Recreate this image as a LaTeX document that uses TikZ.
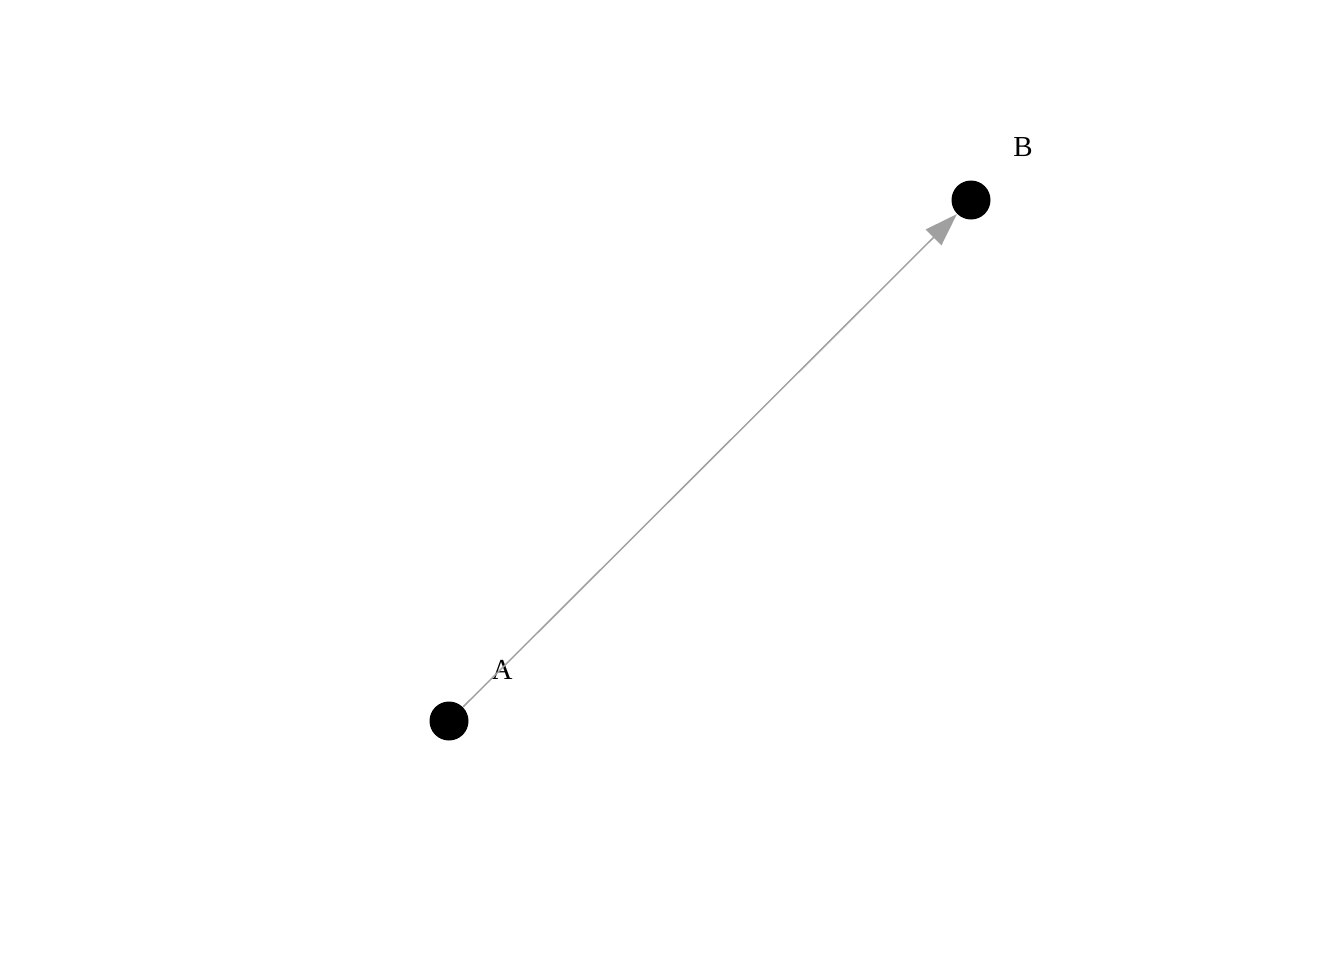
\documentclass[tikz,border=0pt]{standalone}
\usepackage{fontspec}
\setmainfont{Liberation Serif}
\usetikzlibrary{arrows.meta}
\begin{document}
\begin{tikzpicture}[x=0.5pt,y=-0.5pt,
  vertex/.style={circle,fill=black,inner sep=0pt,minimum size=19.5pt},
  vlabel/.style={font=\fontsize{14.5}{17}\selectfont,inner sep=0pt},
  edge/.style={draw={rgb,255:red,160;green,160;blue,160},line width=0.75pt,
    -{Triangle[length=16.5pt,width=11pt]}}]
\useasboundingbox (0,0) rectangle (1344,960);
\node[vertex] (A) at (449,721) {};
\node[vertex] (B) at (971,200) {};
\node[vlabel] (la) at (502,670) {A};
\node[vlabel] (lb) at (1023,147) {B};
\draw[edge] (A) -- (B);
\end{tikzpicture}
\end{document}
